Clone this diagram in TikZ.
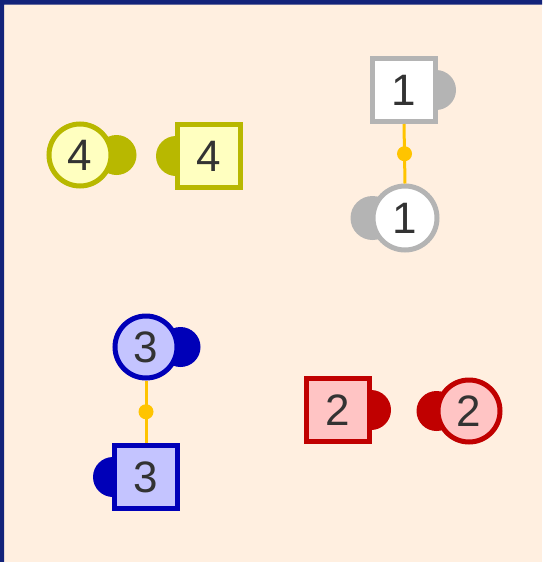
\documentclass[tikz,border=0pt]{standalone}
\usepackage{fontspec}
\setmainfont{Liberation Sans}
\usetikzlibrary{positioning,backgrounds}
\definecolor{ink}{HTML}{333333}
\definecolor{frameblue}{HTML}{13237A}
\definecolor{paper}{HTML}{FFEFE0}
\definecolor{wirecol}{HTML}{FFC400}
\definecolor{yline}{HTML}{B8B800}
\definecolor{yfill}{HTML}{FFFFC0}
\definecolor{gline}{HTML}{B4B4B4}
\definecolor{gfill}{HTML}{FFFFFF}
\definecolor{bline}{HTML}{0000B8}
\definecolor{bfill}{HTML}{C4C4FF}
\definecolor{rline}{HTML}{C00000}
\definecolor{rfill}{HTML}{FFC4C4}
\tikzset{
  rnd/.style={circle, line width=5pt, minimum size=62pt, inner sep=0pt,
              font=\fontsize{44}{44}\selectfont, text=ink},
  sqr/.style={rectangle, line width=5pt, minimum size=63pt, inner sep=0pt,
              font=\fontsize{44}{44}\selectfont, text=ink},
  lobe/.style={circle, inner sep=0pt, minimum size=40pt},
  wire/.style={draw=wirecol, line width=3pt},
  knot/.style={circle, fill=wirecol, inner sep=0pt, minimum size=15pt},
  yel/.style={draw=yline, fill=yfill},
  gry/.style={draw=gline, fill=gfill},
  blu/.style={draw=bline, fill=bfill},
  red/.style={draw=rline, fill=rfill},
}
\begin{document}
\begin{tikzpicture}[x=1pt, y=-1pt]
  \useasboundingbox (0,0) rectangle (542,562);
  % group 4
  \node[rnd, yel] (c4) at (80,155) {4};
  \node[sqr, yel] (s4) at (209,156) {4};
  % group 1
  \node[sqr, gry] (s1) at (404,90) {1};
  \node[rnd, gry, minimum size=64pt] (c1) at (405,218) {1};
  % group 3
  \node[rnd, blu] (c3) at (146,347) {3};
  \node[sqr, blu] (s3) at (146,477) {3};
  % group 2
  \node[sqr, red] (s2) at (338,410) {2};
  \node[rnd, red] (c2) at (469,411) {2};
  % links
  \draw[wire] (s1.south) -- node[knot] (k1) {} (c1.north);
  \draw[wire] (c3.south) -- node[knot] (k3) {} (s3.north);
  \begin{scope}[on background layer]
    \fill[paper] (0,0) rectangle (542,562);
    \fill[frameblue] (0,0) rectangle (542,4.5) (0,0) rectangle (4,562);
    \node[lobe, fill=yline] (c4l) at ([xshift=3pt]c4.east) {};
    \node[lobe, fill=yline] (s4l) at ([xshift=1pt]s4.west) {};
    \node[lobe, fill=gline] (s1l) at ([xshift=-2pt]s1.east) {};
    \node[lobe, fill=gline, minimum size=44pt] (c1l) at ([xshift=2pt]c1.west) {};
    \node[lobe, fill=bline] (c3l) at ([xshift=1pt]c3.east) {};
    \node[lobe, fill=bline] (s3l) at ([xshift=1pt]s3.west) {};
    \node[lobe, fill=rline] (s2l) at ([xshift=-1pt]s2.east) {};
    \node[lobe, fill=rline] (c2l) at ([xshift=1pt]c2.west) {};
  \end{scope}
\end{tikzpicture}
\end{document}
